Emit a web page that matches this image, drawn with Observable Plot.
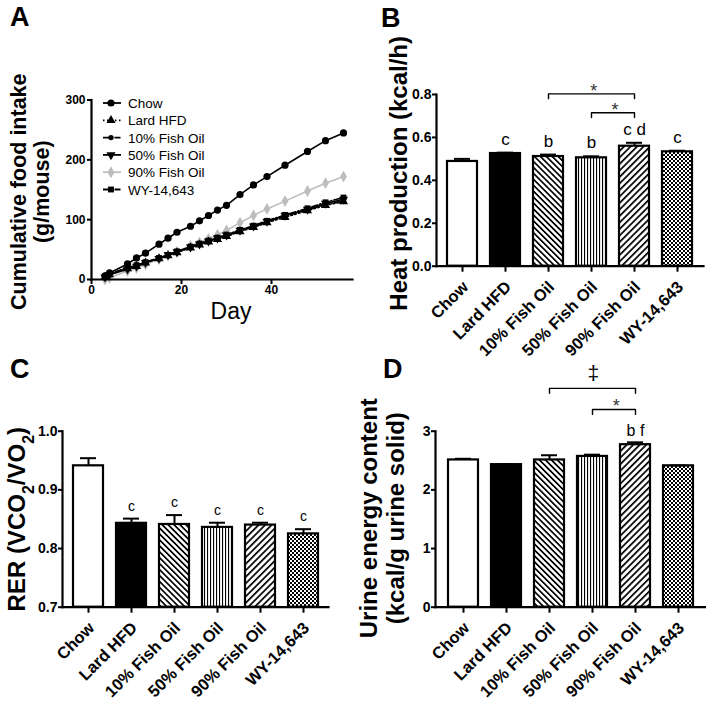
<!DOCTYPE html>
<html><head><meta charset="utf-8">
<script src="https://cdn.jsdelivr.net/npm/d3@7"></script>
<script src="https://cdn.jsdelivr.net/npm/@observablehq/plot@0.6"></script>
<style>
body{margin:0;background:#fff;}
#root{position:relative;width:706px;height:703px;overflow:hidden;background:#fff;font-family:"Liberation Sans",Arial,sans-serif;}
.panel{position:absolute;}
.panel svg{overflow:visible;}
#overlay{position:absolute;left:0;top:0;}
</style></head><body>
<svg width="0" height="0" style="position:absolute;left:0;top:0">
<defs>
<pattern id="p10" patternUnits="userSpaceOnUse" width="4.2" height="4.2" patternTransform="rotate(-45)"><rect width="4.2" height="4.2" fill="#fff"/><rect width="1.7" height="4.2" fill="#000"/></pattern>
<pattern id="p50" patternUnits="userSpaceOnUse" width="3" height="3"><rect width="3" height="3" fill="#fff"/><rect width="1.1" height="3" fill="#000"/></pattern>
<pattern id="p90" patternUnits="userSpaceOnUse" width="4.6" height="4.6" patternTransform="rotate(45)"><rect width="4.6" height="4.6" fill="#fff"/><rect width="1.7" height="4.6" fill="#000"/></pattern>
<pattern id="pwy" patternUnits="userSpaceOnUse" width="4" height="4"><rect width="4" height="4" fill="#fff"/><rect width="2" height="2" fill="#000"/><rect x="2" y="2" width="2" height="2" fill="#000"/></pattern>
</defs></svg>
<div id="root"></div>
<script>
// ---------- DATA ----------
const categories = ["Chow", "Lard HFD", "10% Fish Oil", "50% Fish Oil", "90% Fish Oil", "WY-14,643"];

// Panel A: cumulative food intake
const days = [3, 4, 8, 10, 12, 15, 17, 19, 22, 24, 26, 28, 30, 33, 36, 39, 43, 48, 52, 56];
const intakeChow = [6, 11, 26, 36, 44, 59, 69, 79, 89, 98, 107, 116, 124, 142, 158, 172, 191, 214, 232, 245];
const intakeLard = [4, 8, 18, 22, 28, 35, 40, 45, 53, 58, 63, 67, 72, 80, 87, 95, 104, 115, 124, 130];
const intake10 = [5, 9, 19, 23, 29, 36, 41, 46, 54, 59, 64, 68, 73, 81, 88, 96, 106, 116, 126, 131];
const intake50 = [4, 8, 17, 22, 28, 35, 41, 46, 54, 59, 64, 69, 74, 82, 89, 97, 107, 117, 127, 134];
const intake90 = [0, 3, 14, 19, 25, 34, 40, 46, 56, 62, 68, 75, 82, 95, 107, 118, 131, 148, 161, 172];
const intakeWY = [5, 9, 20, 24, 29, 36, 41, 47, 55, 60, 65, 70, 75, 83, 90, 98, 108, 119, 129, 137];
const yTicksA = [0, 100, 200, 300];
const xTicksA = [0, 20, 40];

// Panel B: heat production
const heatValues = [0.488, 0.525, 0.511, 0.505, 0.559, 0.533];
const heatErrors = [0.012, 0.004, 0.009, 0.007, 0.016, 0.005];
const heatLetters = ["", "c", "b", "b", "c d", "c"];
const heatBrackets = [
  {from: "10% Fish Oil", to: "90% Fish Oil", y: 0.803, label: "*"},
  {from: "50% Fish Oil", to: "90% Fish Oil", y: 0.715, label: "*"}
];
const heatTicks = [0, 0.2, 0.4, 0.6, 0.8];

// Panel C: RER
const rerValues = [0.941, 0.843, 0.841, 0.836, 0.840, 0.825];
const rerErrors = [0.013, 0.008, 0.016, 0.008, 0.004, 0.008];
const rerLetters = ["", "c", "c", "c", "c", "c"];
const rerTicks = [0.7, 0.8, 0.9, 1.0];

// Panel D: urine energy content
const urineValues = [2.51, 2.43, 2.51, 2.57, 2.77, 2.41];
const urineErrors = [0.02, 0.01, 0.08, 0.03, 0.04, 0.005];
const urineLetters = ["", "", "", "", "b f", ""];
const urineBrackets = [
  {from: "10% Fish Oil", to: "90% Fish Oil", y: 3.73, label: "‡"},
  {from: "50% Fish Oil", to: "90% Fish Oil", y: 3.37, label: "*"}
];
const urineTicks = [0, 1, 2, 3];

// ---------- STYLES ----------
const FONT = '"Liberation Sans", Arial, sans-serif';
const barFill = {"Chow": "#fff", "Lard HFD": "#000", "10% Fish Oil": "url(#p10)", "50% Fish Oil": "url(#p50)", "90% Fish Oil": "url(#p90)", "WY-14,643": "url(#pwy)"};
const triangleDown = {draw(ctx, size) {
  const y = -Math.sqrt(size / (Math.sqrt(3) * 3));
  ctx.moveTo(0, -y * 2); ctx.lineTo(-Math.sqrt(3) * y, y); ctx.lineTo(Math.sqrt(3) * y, y); ctx.closePath();
}};
const lineStyle = {
  "Chow": {color: "#000", dash: null, symbol: "circle", r: 3.6},
  "Lard HFD": {color: "#000", dash: "1.5,2.5", symbol: "triangle", r: 3.4},
  "10% Fish Oil": {color: "#000", dash: "6,2,1.5,2", symbol: "circle", r: 2.7},
  "50% Fish Oil": {color: "#000", dash: null, symbol: triangleDown, r: 3.4},
  "90% Fish Oil": {color: "#bdbdbd", dash: null, symbol: "diamond", r: 3.6},
  "WY-14,643": {color: "#000", dash: "6,2,1.5,2", symbol: "square", r: 3.3}
};
const seriesValues = {"Chow": intakeChow, "Lard HFD": intakeLard, "10% Fish Oil": intake10, "50% Fish Oil": intake50, "90% Fish Oil": intake90, "WY-14,643": intakeWY};

const root = document.getElementById("root");
function place(svg, left, top) {
  const d = document.createElement("div");
  d.className = "panel"; d.style.left = left + "px"; d.style.top = top + "px";
  d.appendChild(svg); root.appendChild(d);
  return svg;
}
const baseStyle = {fontFamily: FONT, fontSize: "14px", fontWeight: "bold", color: "#000", background: "transparent", overflow: "visible"};

// ---------- PANEL A ----------
{
  const W = 353, H = 350;
  const marks = [];
  const order = ["90% Fish Oil", "Lard HFD", "10% Fish Oil", "50% Fish Oil", "WY-14,643", "Chow"];
  for (const name of order) {
    const st = lineStyle[name];
    const rows = days.map((d, i) => ({day: d, v: seriesValues[name][i]}));
    marks.push(Plot.line(rows, {x: "day", y: "v", stroke: st.color, strokeWidth: 1.6, strokeDasharray: st.dash ?? undefined}));
    marks.push(Plot.dot(rows, {x: "day", y: "v", symbol: st.symbol, r: st.r, fill: st.color, stroke: "none"}));
  }
  marks.push(
    Plot.axisY({ticks: yTicksA, tickSize: 4, tickPadding: 2, strokeWidth: 2, label: null}),
    Plot.axisX({ticks: xTicksA, tickSize: 5, tickPadding: 1, strokeWidth: 2, label: null}),
    Plot.frame({anchor: "left", strokeWidth: 2.2}),
    Plot.frame({anchor: "bottom", strokeWidth: 2.2}),
    Plot.text(["Cumulative food intake\n(g/mouse)"], {frameAnchor: "left", textAnchor: "middle", rotate: -90, dx: -61, dy: 2, fontSize: 21.5, fontWeight: "bold", lineHeight: 1.05}),
    Plot.text(["Day"], {frameAnchor: "bottom", textAnchor: "middle", dx: 9, dy: 39, fontSize: 23, fontWeight: "normal"})
  );
  const svg = Plot.plot({
    width: W, height: H, marginLeft: 91, marginRight: 1, marginTop: 99.5, marginBottom: 71,
    x: {domain: [0, 58]}, y: {domain: [0, 300]},
    style: {...baseStyle, fontSize: "12px"},
    marks
  });
  place(svg, 0, 0);
}

// ---------- BAR PANELS ----------
function barPanel(o) {
  const rows = categories.map((c, i) => ({cat: c, v: o.values[i], e: o.errors[i], letter: o.letters[i], pat: barFill[c]}));
  const xOpts = {domain: categories, paddingInner: 0.31, paddingOuter: o.po, align: 0.5};
  const sx = Plot.scale({x: {type: "band", ...xOpts, range: [o.ml, o.W - o.mr]}});
  const base = o.domain[0];
  const drop = (o.domain[1] - o.domain[0]) * 0.028;
  const marks = [
    Plot.barY(rows, {x: "cat", y1: () => base, y2: "v", fill: "pat", stroke: "#000", strokeWidth: 2.2}),
    Plot.ruleX(rows, {x: "cat", y1: "v", y2: d => d.v + d.e, stroke: "#000", strokeWidth: 2}),
    Plot.tickY(rows, {x: "cat", y: d => d.v + d.e, stroke: "#000", strokeWidth: 2, insetLeft: 7, insetRight: 7}),
    Plot.text(rows.filter(d => d.letter), {x: "cat", y: d => d.v + d.e, text: "letter", dy: o.letterDy, lineAnchor: "bottom", fontSize: o.letterSize, fontWeight: "normal"})
  ];
  for (const b of (o.brackets || [])) {
    const pts = [{c: b.from, y: b.y - drop}, {c: b.from, y: b.y}, {c: b.to, y: b.y}, {c: b.to, y: b.y - drop}];
    marks.push(Plot.line(pts, {x: "c", y: "y", stroke: "#000", strokeWidth: 1.4}));
    const half = (sx.apply(b.to) - sx.apply(b.from)) / 2;
    const isStar = b.label === "*";
    marks.push(Plot.text([b], {x: "from", y: "y", text: "label", dx: half + (isStar ? 2 : 0), dy: isStar ? -3 : -15, lineAnchor: "middle",
      fontSize: isStar ? 18 : 21, fontWeight: "normal", fill: isStar ? "#333" : "#000"}));
  }
  marks.push(
    Plot.axisY({ticks: o.ticks, tickFormat: o.tickFormat, tickSize: 4, tickPadding: 1, strokeWidth: 2, label: null}),
    Plot.axisX({tickSize: 6, strokeWidth: 2, label: null, tickFormat: () => ""}),
    Plot.text(categories, {x: d => d, frameAnchor: "bottom", rotate: -45, textAnchor: "end", lineAnchor: "middle",
      dx: 3, dy: 18, fontSize: 16.5, fontWeight: "bold"}),
    Plot.frame({anchor: "left", strokeWidth: 2.2}),
    Plot.frame({anchor: "bottom", strokeWidth: 2.2}),
    Plot.text([o.title], {frameAnchor: "left", textAnchor: "middle", rotate: -90, dx: o.titleDx, dy: o.titleDy, fontSize: 24, fontWeight: "bold", lineHeight: 1.12})
  );
  return Plot.plot({
    width: o.W, height: o.H, marginLeft: o.ml, marginRight: o.mr, marginTop: o.mt, marginBottom: o.mb,
    x: xOpts, y: {domain: o.domain}, color: {type: "identity"},
    style: baseStyle, marks
  });
}

const svgB = barPanel({W: 353, H: 355, ml: 83, mr: 3, mt: 94, mb: 355 - 265.7, po: 0.25,
  values: heatValues, errors: heatErrors, letters: heatLetters, brackets: heatBrackets,
  domain: [0, 0.8], ticks: heatTicks, tickFormat: d3.format(".1f"),
  title: "Heat production (kcal/h)", titleDx: -38, titleDy: -7, letterSize: 17, letterDy: -8});
place(svgB, 353, 0);

const svgC = barPanel({W: 353, H: 363, ml: 62, mr: 25, mt: 90.7, mb: 363 - 266.7, po: 0.18,
  values: rerValues, errors: rerErrors, letters: rerLetters, brackets: [],
  domain: [0.7, 1.0], ticks: rerTicks, tickFormat: d3.format(".1f"),
  title: "RER (VCO2/VO2)", titleDx: -46, titleDy: 0, letterSize: 14, letterDy: -8});
place(svgC, 0, 340);
svgC.querySelectorAll("text").forEach(t => {
  if (t.textContent === "RER (VCO2/VO2)") {
    t.innerHTML = 'RER (VCO<tspan baseline-shift="sub" font-size="16">2</tspan>/VO<tspan baseline-shift="sub" font-size="16">2</tspan>)';
  }
});

const svgD = barPanel({W: 353, H: 363, ml: 82, mr: 1, mt: 90.7, mb: 363 - 266.7, po: 0.242,
  values: urineValues, errors: urineErrors, letters: urineLetters, brackets: urineBrackets,
  domain: [0, 3], ticks: urineTicks, tickFormat: d3.format("d"),
  title: "Urine energy content\n(kcal/g urine solid)", titleDx: -53.5, titleDy: -1, letterSize: 16, letterDy: -6});
place(svgD, 353, 340);

// ---------- OVERLAY: panel letters + legend for A ----------
const ov = d3.select(root).append("svg").attr("id", "overlay").attr("width", 706).attr("height", 703)
  .style("font-family", FONT);
const panelLetters = [["A", 10, 26], ["B", 381, 27], ["C", 10, 378], ["D", 383, 378]];
ov.selectAll("text.pl").data(panelLetters).join("text").attr("class", "pl")
  .attr("x", d => d[1]).attr("y", d => d[2]).text(d => d[0])
  .attr("font-size", 27).attr("font-weight", "bold").attr("fill", "#000");

const legendNames = ["Chow", "Lard HFD", "10% Fish Oil", "50% Fish Oil", "90% Fish Oil", "WY-14,643"];
const lg = ov.append("g");
legendNames.forEach((name, i) => {
  const st = lineStyle[name];
  const y = 103 + i * 17.3;
  lg.append("line").attr("x1", 103).attr("x2", 121).attr("y1", y).attr("y2", y)
    .attr("stroke", st.color).attr("stroke-width", 1.8).attr("stroke-dasharray", st.dash);
  const sym = typeof st.symbol === "string"
    ? {circle: d3.symbolCircle, triangle: d3.symbolTriangle, diamond: d3.symbolDiamond, square: d3.symbolSquare}[st.symbol]
    : st.symbol;
  lg.append("path").attr("transform", `translate(111,${y})`)
    .attr("d", d3.symbol(sym, Math.PI * st.r * st.r)()).attr("fill", st.color);
  lg.append("text").attr("x", 128).attr("y", y + 5).text(name).attr("font-size", 13.5).attr("fill", "#000");
});
</script>
</body></html>
